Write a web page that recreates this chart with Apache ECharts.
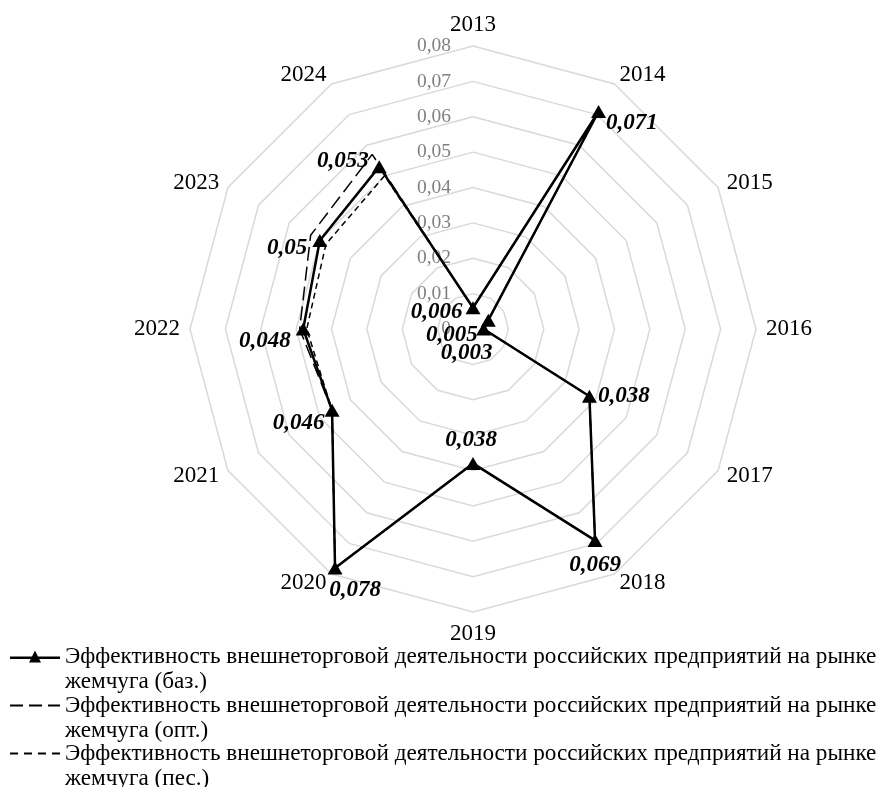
<!DOCTYPE html>
<html>
<head>
<meta charset="utf-8">
<script src="https://cdn.jsdelivr.net/npm/echarts@6/dist/echarts.min.js"></script>
<style>
  html, body { margin: 0; padding: 0; background: #fff; }
  #chart { width: 880px; height: 787px; }
</style>
</head>
<body>
<div id="chart"></div>
<script>
// donnees
const years = ['2013', '2014', '2015', '2016', '2017', '2018', '2019', '2020', '2021', '2022', '2023', '2024'];
const bazValues = [0.006, 0.071, 0.005, 0.003, 0.038, 0.069, 0.038, 0.078, 0.046, 0.048, 0.050, 0.053];
const optValues = [0.006, 0.071, 0.005, 0.003, 0.038, 0.069, 0.038, 0.078, 0.046, 0.049, 0.053, 0.057];
const pesValues = [0.006, 0.071, 0.005, 0.003, 0.038, 0.069, 0.038, 0.078, 0.046, 0.047, 0.048, 0.050];
const seriesNames = [
  'Эффективность внешнеторговой деятельности российских предприятий на рынке жемчуга (баз.)',
  'Эффективность внешнеторговой деятельности российских предприятий на рынке жемчуга (опт.)',
  'Эффективность внешнеторговой деятельности российских предприятий на рынке жемчуга (пес.)'
];
const axisMax = 0.08;

// position des etiquettes de la serie de base (une par annee)
const labelPlacement = [
  { position: 'left', distance: 3, offset: [0, 4] },
  { position: 'right', distance: 0, offset: [0, 12] },
  { position: 'left', distance: 3, offset: [0, 15] },
  { position: 'bottom', distance: 6, offset: [-17, 0] },
  { position: 'right', distance: 1, offset: [0, 0] },
  { position: 'bottom', distance: 7, offset: [0, 0] },
  { position: 'top', distance: 5, offset: [-2, 0] },
  { position: 'bottom', distance: 4, offset: [20, 0] },
  { position: 'left', distance: 0, offset: [0, 13] },
  { position: 'left', distance: 5, offset: [0, 12] },
  { position: 'left', distance: 5, offset: [0, 7] },
  { position: 'left', distance: 3, offset: [0, -6] }
];

const FONT = 'Liberation Serif, Times New Roman, serif';
const CENTER = [473, 329];
const RADIUS = 283;

const fmt = (v) => String(v).replace('.', ',');

// le radar echarts tourne dans le sens inverse : on inverse l'ordre apres 2013
const indicator = [years[0]].concat(years.slice(1).reverse()).map((y) => ({ name: y, min: 0, max: axisMax }));

// points polaires [rayon, angle], polygone ferme en repetant le premier point
function toPolar(values, withLabels) {
  const pts = values.map((v, i) => {
    const item = { value: [v, i * 360 / values.length] };
    if (withLabels) {
      item.label = Object.assign({ show: true }, labelPlacement[i]);
    }
    return item;
  });
  pts.push({ value: [values[0], 360], symbol: 'none', label: { show: false } });
  return pts;
}

const chart = echarts.init(document.getElementById('chart'));

// ligne vide en tete : la premiere ligne du texte se cale sur le symbole
const legendBase = {
  orient: 'vertical',
  left: 5,
  itemWidth: 50,
  selectedMode: false,
  formatter: (name) => '\n' + name.replace(' жемчуга', '\nжемчуга'),
  textStyle: {
    fontFamily: FONT,
    fontSize: 23.2,
    color: '#000',
    lineHeight: 25
  }
};

const option = {
  animation: false,
  backgroundColor: '#fff',
  color: ['#000', '#000', '#000'],
  radar: {
    center: CENTER,
    radius: RADIUS,
    shape: 'polygon',
    splitNumber: 8,
    startAngle: 90,
    nameGap: 10,
    indicator: indicator,
    axisName: { color: '#000', fontFamily: FONT, fontSize: 23 },
    axisLine: { show: false },
    axisTick: { show: false },
    axisLabel: { show: false },
    splitArea: { show: false },
    splitLine: { lineStyle: { color: '#d9d9d9', width: 1.5 } }
  },
  polar: { center: CENTER, radius: RADIUS },
  angleAxis: {
    type: 'value', min: 0, max: 360, startAngle: 90, clockwise: true, show: false
  },
  radiusAxis: {
    type: 'value',
    min: 0,
    max: axisMax,
    interval: 0.01,
    axisLine: { show: false },
    axisTick: { show: false },
    splitLine: { show: false },
    axisLabel: {
      margin: 22,
      color: '#808080',
      fontFamily: FONT,
      fontSize: 19.5,
      formatter: (v) => (v === 0 ? '0' : v.toFixed(2).replace('.', ','))
    }
  },
  legend: [
    Object.assign({}, legendBase, {
      top: 614,
      itemHeight: 14,
      data: [{ name: seriesNames[0], icon: 'path://M0,6H50V8.5H0Z M25,0L31,12H19Z' }]
    }),
    Object.assign({}, legendBase, {
      top: 663,
      itemHeight: 2,
      data: [{ name: seriesNames[1], icon: 'path://M0,0H13V2H0Z M19,0H32V2H19Z M38,0H50V2H38Z' }]
    }),
    Object.assign({}, legendBase, {
      top: 711,
      itemHeight: 2,
      data: [{ name: seriesNames[2], icon: 'path://M0,0H8V2H0Z M14,0H22V2H14Z M28,0H36V2H28Z M42,0H50V2H42Z' }]
    })
  ],
  series: [
    {
      name: seriesNames[1],
      type: 'line',
      coordinateSystem: 'polar',
      symbol: 'none',
      z: 3,
      itemStyle: { color: '#000' },
      lineStyle: { color: '#000', width: 1.5, type: [14, 6] },
      data: toPolar(optValues, false)
    },
    {
      name: seriesNames[2],
      type: 'line',
      coordinateSystem: 'polar',
      symbol: 'none',
      z: 3,
      itemStyle: { color: '#000' },
      lineStyle: { color: '#000', width: 1.5, type: [6, 4] },
      data: toPolar(pesValues, false)
    },
    {
      name: seriesNames[0],
      type: 'line',
      coordinateSystem: 'polar',
      symbol: 'triangle',
      symbolSize: [15, 13],
      z: 4,
      itemStyle: { color: '#000' },
      lineStyle: { color: '#000', width: 2.5 },
      label: {
        show: true,
        color: '#000',
        fontFamily: FONT,
        fontSize: 23,
        fontWeight: 'bold',
        fontStyle: 'italic',
        formatter: (p) => fmt(p.value[0])
      },
      data: toPolar(bazValues, true)
    }
  ]
};

chart.setOption(option);
</script>
</body>
</html>
